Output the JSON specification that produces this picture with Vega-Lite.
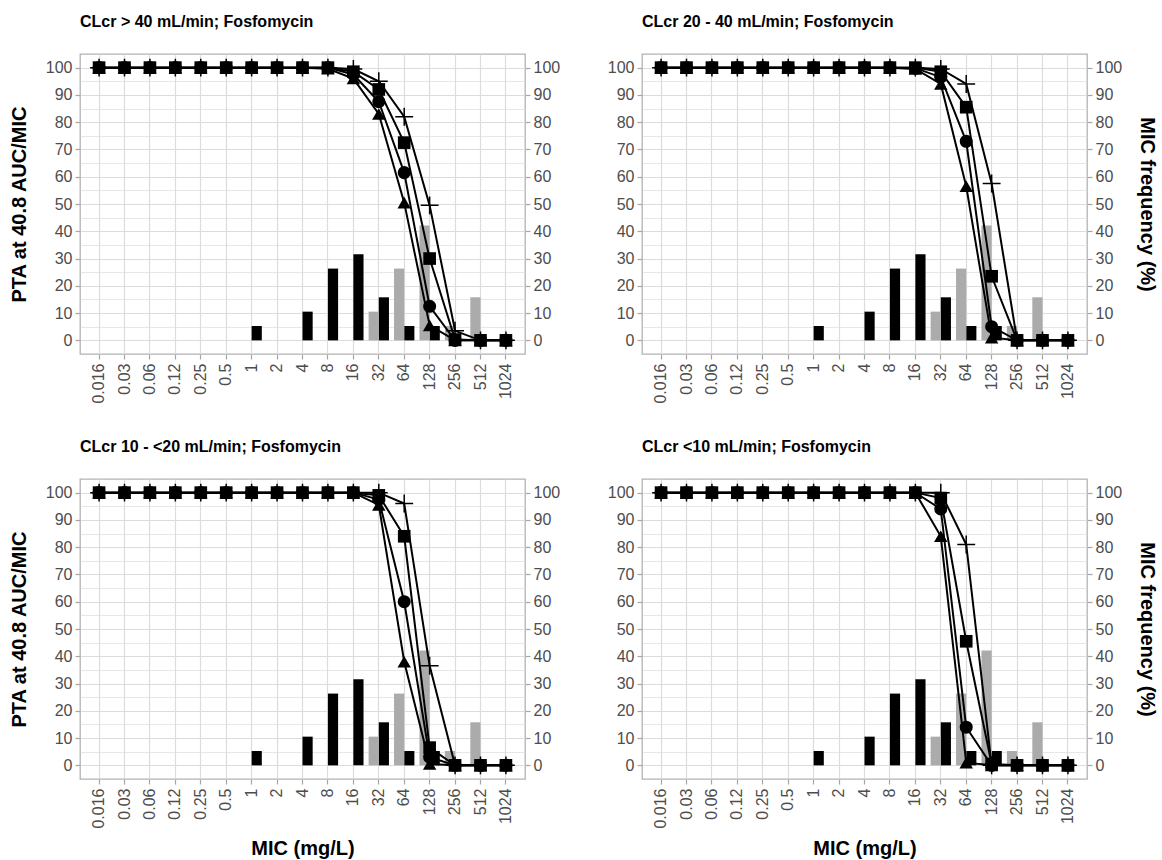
{
"$schema": "https://vega.github.io/schema/vega-lite/v6.json",
"background": "white",
"padding": {"left": 8, "right": 0, "top": 13, "bottom": 0},
"bounds": "flush",
"columns": 2,
"spacing": {"row": 125, "column": 117},
"config": {
 "font": "Liberation Sans",
 "view": {"stroke": "#b3b3b3", "strokeWidth": 1.3},
 "axis": {"domain": false, "labelFontSize": 16, "labelColor": "#4d4d4d", "labelFont": "Liberation Sans", "tickColor": "#a6a6a6", "tickSize": 5, "tickWidth": 1.2, "titleFontSize": 20, "titleFontWeight": "bold", "titleColor": "black", "titleFont": "Liberation Sans", "gridColor": "#dcdcdc", "gridWidth": 1.2, "labelPadding": 3},
 "title": {"fontSize": 16, "fontWeight": "bold", "anchor": "start", "frame": "group", "color": "black", "font": "Liberation Sans", "offset": 24}
},
"datasets": {
 "bars": [
  {"m": "1", "g": "black", "f": 5.26},
  {"m": "4", "g": "black", "f": 10.53},
  {"m": "8", "g": "black", "f": 26.32},
  {"m": "16", "g": "black", "f": 31.58},
  {"m": "32", "g": "black", "f": 15.79},
  {"m": "64", "g": "black", "f": 5.26},
  {"m": "128", "g": "black", "f": 5.26},
  {"m": "32", "g": "gray", "f": 10.53},
  {"m": "64", "g": "gray", "f": 26.32},
  {"m": "128", "g": "gray", "f": 42.11},
  {"m": "256", "g": "gray", "f": 5.26},
  {"m": "512", "g": "gray", "f": 15.79}
 ],
 "lines": [
  {"p":"A","m":"0.016","s":"tri","v":100},{"p":"A","m":"0.016","s":"circ","v":100},{"p":"A","m":"0.016","s":"sq","v":100},{"p":"A","m":"0.016","s":"plus","v":100},
  {"p":"A","m":"0.03","s":"tri","v":100},{"p":"A","m":"0.03","s":"circ","v":100},{"p":"A","m":"0.03","s":"sq","v":100},{"p":"A","m":"0.03","s":"plus","v":100},
  {"p":"A","m":"0.06","s":"tri","v":100},{"p":"A","m":"0.06","s":"circ","v":100},{"p":"A","m":"0.06","s":"sq","v":100},{"p":"A","m":"0.06","s":"plus","v":100},
  {"p":"A","m":"0.12","s":"tri","v":100},{"p":"A","m":"0.12","s":"circ","v":100},{"p":"A","m":"0.12","s":"sq","v":100},{"p":"A","m":"0.12","s":"plus","v":100},
  {"p":"A","m":"0.25","s":"tri","v":100},{"p":"A","m":"0.25","s":"circ","v":100},{"p":"A","m":"0.25","s":"sq","v":100},{"p":"A","m":"0.25","s":"plus","v":100},
  {"p":"A","m":"0.5","s":"tri","v":100},{"p":"A","m":"0.5","s":"circ","v":100},{"p":"A","m":"0.5","s":"sq","v":100},{"p":"A","m":"0.5","s":"plus","v":100},
  {"p":"A","m":"1","s":"tri","v":100},{"p":"A","m":"1","s":"circ","v":100},{"p":"A","m":"1","s":"sq","v":100},{"p":"A","m":"1","s":"plus","v":100},
  {"p":"A","m":"2","s":"tri","v":100},{"p":"A","m":"2","s":"circ","v":100},{"p":"A","m":"2","s":"sq","v":100},{"p":"A","m":"2","s":"plus","v":100},
  {"p":"A","m":"4","s":"tri","v":100},{"p":"A","m":"4","s":"circ","v":100},{"p":"A","m":"4","s":"sq","v":100},{"p":"A","m":"4","s":"plus","v":100},
  {"p":"A","m":"8","s":"tri","v":99.6},{"p":"A","m":"8","s":"circ","v":100},{"p":"A","m":"8","s":"sq","v":100},{"p":"A","m":"8","s":"plus","v":100},
  {"p":"A","m":"16","s":"tri","v":96},{"p":"A","m":"16","s":"circ","v":97.5},{"p":"A","m":"16","s":"sq","v":98.5},{"p":"A","m":"16","s":"plus","v":99.5},
  {"p":"A","m":"32","s":"tri","v":83},{"p":"A","m":"32","s":"circ","v":87.5},{"p":"A","m":"32","s":"sq","v":92},{"p":"A","m":"32","s":"plus","v":95},
  {"p":"A","m":"64","s":"tri","v":50.5},{"p":"A","m":"64","s":"circ","v":61.5},{"p":"A","m":"64","s":"sq","v":72.5},{"p":"A","m":"64","s":"plus","v":82},
  {"p":"A","m":"128","s":"tri","v":5.5},{"p":"A","m":"128","s":"circ","v":12.5},{"p":"A","m":"128","s":"sq","v":30},{"p":"A","m":"128","s":"plus","v":49.5},
  {"p":"A","m":"256","s":"tri","v":0},{"p":"A","m":"256","s":"circ","v":0},{"p":"A","m":"256","s":"sq","v":0.3},{"p":"A","m":"256","s":"plus","v":3.5},
  {"p":"A","m":"512","s":"tri","v":0},{"p":"A","m":"512","s":"circ","v":0},{"p":"A","m":"512","s":"sq","v":0},{"p":"A","m":"512","s":"plus","v":0},
  {"p":"A","m":"1024","s":"tri","v":0},{"p":"A","m":"1024","s":"circ","v":0},{"p":"A","m":"1024","s":"sq","v":0},{"p":"A","m":"1024","s":"plus","v":0},

  {"p":"B","m":"0.016","s":"tri","v":100},{"p":"B","m":"0.016","s":"circ","v":100},{"p":"B","m":"0.016","s":"sq","v":100},{"p":"B","m":"0.016","s":"plus","v":100},
  {"p":"B","m":"0.03","s":"tri","v":100},{"p":"B","m":"0.03","s":"circ","v":100},{"p":"B","m":"0.03","s":"sq","v":100},{"p":"B","m":"0.03","s":"plus","v":100},
  {"p":"B","m":"0.06","s":"tri","v":100},{"p":"B","m":"0.06","s":"circ","v":100},{"p":"B","m":"0.06","s":"sq","v":100},{"p":"B","m":"0.06","s":"plus","v":100},
  {"p":"B","m":"0.12","s":"tri","v":100},{"p":"B","m":"0.12","s":"circ","v":100},{"p":"B","m":"0.12","s":"sq","v":100},{"p":"B","m":"0.12","s":"plus","v":100},
  {"p":"B","m":"0.25","s":"tri","v":100},{"p":"B","m":"0.25","s":"circ","v":100},{"p":"B","m":"0.25","s":"sq","v":100},{"p":"B","m":"0.25","s":"plus","v":100},
  {"p":"B","m":"0.5","s":"tri","v":100},{"p":"B","m":"0.5","s":"circ","v":100},{"p":"B","m":"0.5","s":"sq","v":100},{"p":"B","m":"0.5","s":"plus","v":100},
  {"p":"B","m":"1","s":"tri","v":100},{"p":"B","m":"1","s":"circ","v":100},{"p":"B","m":"1","s":"sq","v":100},{"p":"B","m":"1","s":"plus","v":100},
  {"p":"B","m":"2","s":"tri","v":100},{"p":"B","m":"2","s":"circ","v":100},{"p":"B","m":"2","s":"sq","v":100},{"p":"B","m":"2","s":"plus","v":100},
  {"p":"B","m":"4","s":"tri","v":100},{"p":"B","m":"4","s":"circ","v":100},{"p":"B","m":"4","s":"sq","v":100},{"p":"B","m":"4","s":"plus","v":100},
  {"p":"B","m":"8","s":"tri","v":100},{"p":"B","m":"8","s":"circ","v":100},{"p":"B","m":"8","s":"sq","v":100},{"p":"B","m":"8","s":"plus","v":100},
  {"p":"B","m":"16","s":"tri","v":99.5},{"p":"B","m":"16","s":"circ","v":99.8},{"p":"B","m":"16","s":"sq","v":100},{"p":"B","m":"16","s":"plus","v":100},
  {"p":"B","m":"32","s":"tri","v":94},{"p":"B","m":"32","s":"circ","v":96.5},{"p":"B","m":"32","s":"sq","v":98.5},{"p":"B","m":"32","s":"plus","v":99.5},
  {"p":"B","m":"64","s":"tri","v":56.5},{"p":"B","m":"64","s":"circ","v":73},{"p":"B","m":"64","s":"sq","v":85.5},{"p":"B","m":"64","s":"plus","v":94},
  {"p":"B","m":"128","s":"tri","v":1},{"p":"B","m":"128","s":"circ","v":5},{"p":"B","m":"128","s":"sq","v":23.5},{"p":"B","m":"128","s":"plus","v":57.5},
  {"p":"B","m":"256","s":"tri","v":0},{"p":"B","m":"256","s":"circ","v":0},{"p":"B","m":"256","s":"sq","v":0},{"p":"B","m":"256","s":"plus","v":0},
  {"p":"B","m":"512","s":"tri","v":0},{"p":"B","m":"512","s":"circ","v":0},{"p":"B","m":"512","s":"sq","v":0},{"p":"B","m":"512","s":"plus","v":0},
  {"p":"B","m":"1024","s":"tri","v":0},{"p":"B","m":"1024","s":"circ","v":0},{"p":"B","m":"1024","s":"sq","v":0},{"p":"B","m":"1024","s":"plus","v":0},

  {"p":"C","m":"0.016","s":"tri","v":100},{"p":"C","m":"0.016","s":"circ","v":100},{"p":"C","m":"0.016","s":"sq","v":100},{"p":"C","m":"0.016","s":"plus","v":100},
  {"p":"C","m":"0.03","s":"tri","v":100},{"p":"C","m":"0.03","s":"circ","v":100},{"p":"C","m":"0.03","s":"sq","v":100},{"p":"C","m":"0.03","s":"plus","v":100},
  {"p":"C","m":"0.06","s":"tri","v":100},{"p":"C","m":"0.06","s":"circ","v":100},{"p":"C","m":"0.06","s":"sq","v":100},{"p":"C","m":"0.06","s":"plus","v":100},
  {"p":"C","m":"0.12","s":"tri","v":100},{"p":"C","m":"0.12","s":"circ","v":100},{"p":"C","m":"0.12","s":"sq","v":100},{"p":"C","m":"0.12","s":"plus","v":100},
  {"p":"C","m":"0.25","s":"tri","v":100},{"p":"C","m":"0.25","s":"circ","v":100},{"p":"C","m":"0.25","s":"sq","v":100},{"p":"C","m":"0.25","s":"plus","v":100},
  {"p":"C","m":"0.5","s":"tri","v":100},{"p":"C","m":"0.5","s":"circ","v":100},{"p":"C","m":"0.5","s":"sq","v":100},{"p":"C","m":"0.5","s":"plus","v":100},
  {"p":"C","m":"1","s":"tri","v":100},{"p":"C","m":"1","s":"circ","v":100},{"p":"C","m":"1","s":"sq","v":100},{"p":"C","m":"1","s":"plus","v":100},
  {"p":"C","m":"2","s":"tri","v":100},{"p":"C","m":"2","s":"circ","v":100},{"p":"C","m":"2","s":"sq","v":100},{"p":"C","m":"2","s":"plus","v":100},
  {"p":"C","m":"4","s":"tri","v":100},{"p":"C","m":"4","s":"circ","v":100},{"p":"C","m":"4","s":"sq","v":100},{"p":"C","m":"4","s":"plus","v":100},
  {"p":"C","m":"8","s":"tri","v":100},{"p":"C","m":"8","s":"circ","v":100},{"p":"C","m":"8","s":"sq","v":100},{"p":"C","m":"8","s":"plus","v":100},
  {"p":"C","m":"16","s":"tri","v":100},{"p":"C","m":"16","s":"circ","v":100},{"p":"C","m":"16","s":"sq","v":100},{"p":"C","m":"16","s":"plus","v":100},
  {"p":"C","m":"32","s":"tri","v":95.5},{"p":"C","m":"32","s":"circ","v":97.5},{"p":"C","m":"32","s":"sq","v":99},{"p":"C","m":"32","s":"plus","v":100},
  {"p":"C","m":"64","s":"tri","v":38},{"p":"C","m":"64","s":"circ","v":60},{"p":"C","m":"64","s":"sq","v":84},{"p":"C","m":"64","s":"plus","v":96},
  {"p":"C","m":"128","s":"tri","v":0.5},{"p":"C","m":"128","s":"circ","v":3},{"p":"C","m":"128","s":"sq","v":6.5},{"p":"C","m":"128","s":"plus","v":36.5},
  {"p":"C","m":"256","s":"tri","v":0},{"p":"C","m":"256","s":"circ","v":0},{"p":"C","m":"256","s":"sq","v":0},{"p":"C","m":"256","s":"plus","v":0},
  {"p":"C","m":"512","s":"tri","v":0},{"p":"C","m":"512","s":"circ","v":0},{"p":"C","m":"512","s":"sq","v":0},{"p":"C","m":"512","s":"plus","v":0},
  {"p":"C","m":"1024","s":"tri","v":0},{"p":"C","m":"1024","s":"circ","v":0},{"p":"C","m":"1024","s":"sq","v":0},{"p":"C","m":"1024","s":"plus","v":0},

  {"p":"D","m":"0.016","s":"tri","v":100},{"p":"D","m":"0.016","s":"circ","v":100},{"p":"D","m":"0.016","s":"sq","v":100},{"p":"D","m":"0.016","s":"plus","v":100},
  {"p":"D","m":"0.03","s":"tri","v":100},{"p":"D","m":"0.03","s":"circ","v":100},{"p":"D","m":"0.03","s":"sq","v":100},{"p":"D","m":"0.03","s":"plus","v":100},
  {"p":"D","m":"0.06","s":"tri","v":100},{"p":"D","m":"0.06","s":"circ","v":100},{"p":"D","m":"0.06","s":"sq","v":100},{"p":"D","m":"0.06","s":"plus","v":100},
  {"p":"D","m":"0.12","s":"tri","v":100},{"p":"D","m":"0.12","s":"circ","v":100},{"p":"D","m":"0.12","s":"sq","v":100},{"p":"D","m":"0.12","s":"plus","v":100},
  {"p":"D","m":"0.25","s":"tri","v":100},{"p":"D","m":"0.25","s":"circ","v":100},{"p":"D","m":"0.25","s":"sq","v":100},{"p":"D","m":"0.25","s":"plus","v":100},
  {"p":"D","m":"0.5","s":"tri","v":100},{"p":"D","m":"0.5","s":"circ","v":100},{"p":"D","m":"0.5","s":"sq","v":100},{"p":"D","m":"0.5","s":"plus","v":100},
  {"p":"D","m":"1","s":"tri","v":100},{"p":"D","m":"1","s":"circ","v":100},{"p":"D","m":"1","s":"sq","v":100},{"p":"D","m":"1","s":"plus","v":100},
  {"p":"D","m":"2","s":"tri","v":100},{"p":"D","m":"2","s":"circ","v":100},{"p":"D","m":"2","s":"sq","v":100},{"p":"D","m":"2","s":"plus","v":100},
  {"p":"D","m":"4","s":"tri","v":100},{"p":"D","m":"4","s":"circ","v":100},{"p":"D","m":"4","s":"sq","v":100},{"p":"D","m":"4","s":"plus","v":100},
  {"p":"D","m":"8","s":"tri","v":100},{"p":"D","m":"8","s":"circ","v":100},{"p":"D","m":"8","s":"sq","v":100},{"p":"D","m":"8","s":"plus","v":100},
  {"p":"D","m":"16","s":"tri","v":100},{"p":"D","m":"16","s":"circ","v":100},{"p":"D","m":"16","s":"sq","v":100},{"p":"D","m":"16","s":"plus","v":100},
  {"p":"D","m":"32","s":"tri","v":84},{"p":"D","m":"32","s":"circ","v":94},{"p":"D","m":"32","s":"sq","v":98},{"p":"D","m":"32","s":"plus","v":100},
  {"p":"D","m":"64","s":"tri","v":1},{"p":"D","m":"64","s":"circ","v":14},{"p":"D","m":"64","s":"sq","v":45.5},{"p":"D","m":"64","s":"plus","v":81},
  {"p":"D","m":"128","s":"tri","v":0},{"p":"D","m":"128","s":"circ","v":0},{"p":"D","m":"128","s":"sq","v":0.5},{"p":"D","m":"128","s":"plus","v":0},
  {"p":"D","m":"256","s":"tri","v":0},{"p":"D","m":"256","s":"circ","v":0},{"p":"D","m":"256","s":"sq","v":0},{"p":"D","m":"256","s":"plus","v":0},
  {"p":"D","m":"512","s":"tri","v":0},{"p":"D","m":"512","s":"circ","v":0},{"p":"D","m":"512","s":"sq","v":0},{"p":"D","m":"512","s":"plus","v":0},
  {"p":"D","m":"1024","s":"tri","v":0},{"p":"D","m":"1024","s":"circ","v":0},{"p":"D","m":"1024","s":"sq","v":0},{"p":"D","m":"1024","s":"plus","v":0}
 ]
},
"concat": [
 {
  "title": {"text": "CLcr > 40 mL/min; Fosfomycin"},
  "width": 445, "height": 300,
  "encoding": {"x": {"field": "m", "type": "nominal", "sort": null, "scale": {"domain": ["0.016","0.03","0.06","0.12","0.25","0.5","1","2","4","8","16","32","64","128","256","512","1024"], "paddingInner": 0.2, "paddingOuter": 0.35}, "axis": {"title": null, "labelAngle": -90, "grid": true, "labelPadding": 4}}},
  "layer": [
   {"data": {"name": "bars"}, "mark": {"type": "bar"},
    "encoding": {"xOffset": {"field": "g", "type": "nominal", "scale": {"domain": ["gray", "black"]}},
     "y": {"field": "f", "type": "quantitative", "scale": {"domain": [-5, 105], "nice": false, "zero": false}, "axis": {"orient": "right", "values": [0,10,20,30,40,50,60,70,80,90,100], "grid": false, "title": null}},
     "y2": {"datum": 0},
     "color": {"field": "g", "type": "nominal", "scale": {"domain": ["gray", "black"], "range": ["#ababab", "#000000"]}, "legend": null}}},
   {"data": {"name": "lines"}, "transform": [{"filter": "datum.p === 'A'"}], "mark": {"type": "line", "color": "black", "strokeWidth": 2},
    "encoding": {"y": {"field": "v", "type": "quantitative", "scale": {"domain": [-5, 105], "nice": false, "zero": false}, "axis": {"orient": "left", "values": [0,5,10,15,20,25,30,35,40,45,50,55,60,65,70,75,80,85,90,95,100], "labelExpr": "datum.value % 10 === 0 ? datum.label : ''", "tickOpacity": {"condition": {"test": "datum.value % 10 !== 0", "value": 0}, "value": 1}, "gridWidth": {"condition": {"test": "datum.value % 10 !== 0", "value": 0.7}, "value": 1.2}, "grid": true, "title": "PTA at 40.8 AUC/MIC", "titlePadding": 16}},
     "detail": {"field": "s"}, "order": {"value": null}}},
   {"data": {"name": "lines"}, "transform": [{"filter": "datum.p === 'A' && datum.s !== 'plus'"}], "mark": {"type": "point", "filled": true, "opacity": 1, "color": "black"},
    "encoding": {"y": {"field": "v", "type": "quantitative", "axis": null},
     "shape": {"field": "s", "type": "nominal", "scale": {"domain": ["tri", "circ", "sq"], "range": ["triangle-up", "circle", "square"]}, "legend": null},
     "size": {"field": "s", "type": "nominal", "scale": {"domain": ["tri", "circ", "sq"], "range": [180, 160, 160]}, "legend": null}}},
   {"data": {"name": "lines"}, "transform": [{"filter": "datum.p === 'A' && datum.s === 'plus'"}], "mark": {"type": "point", "shape": "M-1,0H1M0,-1V1", "size": 320, "filled": false, "color": "black", "strokeWidth": 1.5, "opacity": 1},
    "encoding": {"y": {"field": "v", "type": "quantitative", "axis": null}}}
  ],
  "resolve": {"axis": {"y": "independent"}}
 },
 {
  "title": {"text": "CLcr 20 - 40 mL/min; Fosfomycin"},
  "width": 445, "height": 300,
  "encoding": {"x": {"field": "m", "type": "nominal", "sort": null, "scale": {"domain": ["0.016","0.03","0.06","0.12","0.25","0.5","1","2","4","8","16","32","64","128","256","512","1024"], "paddingInner": 0.2, "paddingOuter": 0.35}, "axis": {"title": null, "labelAngle": -90, "grid": true, "labelPadding": 4}}},
  "layer": [
   {"data": {"name": "bars"}, "mark": {"type": "bar"},
    "encoding": {"xOffset": {"field": "g", "type": "nominal", "scale": {"domain": ["gray", "black"]}},
     "y": {"field": "f", "type": "quantitative", "scale": {"domain": [-5, 105], "nice": false, "zero": false}, "axis": {"orient": "right", "values": [0,10,20,30,40,50,60,70,80,90,100], "grid": false, "title": "MIC frequency (%)", "titlePadding": 15}},
     "y2": {"datum": 0},
     "color": {"field": "g", "type": "nominal", "scale": {"domain": ["gray", "black"], "range": ["#ababab", "#000000"]}, "legend": null}}},
   {"data": {"name": "lines"}, "transform": [{"filter": "datum.p === 'B'"}], "mark": {"type": "line", "color": "black", "strokeWidth": 2},
    "encoding": {"y": {"field": "v", "type": "quantitative", "scale": {"domain": [-5, 105], "nice": false, "zero": false}, "axis": {"orient": "left", "values": [0,5,10,15,20,25,30,35,40,45,50,55,60,65,70,75,80,85,90,95,100], "labelExpr": "datum.value % 10 === 0 ? datum.label : ''", "tickOpacity": {"condition": {"test": "datum.value % 10 !== 0", "value": 0}, "value": 1}, "gridWidth": {"condition": {"test": "datum.value % 10 !== 0", "value": 0.7}, "value": 1.2}, "grid": true, "title": null}},
     "detail": {"field": "s"}, "order": {"value": null}}},
   {"data": {"name": "lines"}, "transform": [{"filter": "datum.p === 'B' && datum.s !== 'plus'"}], "mark": {"type": "point", "filled": true, "opacity": 1, "color": "black"},
    "encoding": {"y": {"field": "v", "type": "quantitative", "axis": null},
     "shape": {"field": "s", "type": "nominal", "scale": {"domain": ["tri", "circ", "sq"], "range": ["triangle-up", "circle", "square"]}, "legend": null},
     "size": {"field": "s", "type": "nominal", "scale": {"domain": ["tri", "circ", "sq"], "range": [180, 160, 160]}, "legend": null}}},
   {"data": {"name": "lines"}, "transform": [{"filter": "datum.p === 'B' && datum.s === 'plus'"}], "mark": {"type": "point", "shape": "M-1,0H1M0,-1V1", "size": 320, "filled": false, "color": "black", "strokeWidth": 1.5, "opacity": 1},
    "encoding": {"y": {"field": "v", "type": "quantitative", "axis": null}}}
  ],
  "resolve": {"axis": {"y": "independent"}}
 },
 {
  "title": {"text": "CLcr 10 - <20 mL/min; Fosfomycin"},
  "width": 445, "height": 300,
  "encoding": {"x": {"field": "m", "type": "nominal", "sort": null, "scale": {"domain": ["0.016","0.03","0.06","0.12","0.25","0.5","1","2","4","8","16","32","64","128","256","512","1024"], "paddingInner": 0.2, "paddingOuter": 0.35}, "axis": {"title": "MIC (mg/L)", "titlePadding": 10, "labelAngle": -90, "grid": true, "labelPadding": 4}}},
  "layer": [
   {"data": {"name": "bars"}, "mark": {"type": "bar"},
    "encoding": {"xOffset": {"field": "g", "type": "nominal", "scale": {"domain": ["gray", "black"]}},
     "y": {"field": "f", "type": "quantitative", "scale": {"domain": [-5, 105], "nice": false, "zero": false}, "axis": {"orient": "right", "values": [0,10,20,30,40,50,60,70,80,90,100], "grid": false, "title": null}},
     "y2": {"datum": 0},
     "color": {"field": "g", "type": "nominal", "scale": {"domain": ["gray", "black"], "range": ["#ababab", "#000000"]}, "legend": null}}},
   {"data": {"name": "lines"}, "transform": [{"filter": "datum.p === 'C'"}], "mark": {"type": "line", "color": "black", "strokeWidth": 2},
    "encoding": {"y": {"field": "v", "type": "quantitative", "scale": {"domain": [-5, 105], "nice": false, "zero": false}, "axis": {"orient": "left", "values": [0,5,10,15,20,25,30,35,40,45,50,55,60,65,70,75,80,85,90,95,100], "labelExpr": "datum.value % 10 === 0 ? datum.label : ''", "tickOpacity": {"condition": {"test": "datum.value % 10 !== 0", "value": 0}, "value": 1}, "gridWidth": {"condition": {"test": "datum.value % 10 !== 0", "value": 0.7}, "value": 1.2}, "grid": true, "title": "PTA at 40.8 AUC/MIC", "titlePadding": 16}},
     "detail": {"field": "s"}, "order": {"value": null}}},
   {"data": {"name": "lines"}, "transform": [{"filter": "datum.p === 'C' && datum.s !== 'plus'"}], "mark": {"type": "point", "filled": true, "opacity": 1, "color": "black"},
    "encoding": {"y": {"field": "v", "type": "quantitative", "axis": null},
     "shape": {"field": "s", "type": "nominal", "scale": {"domain": ["tri", "circ", "sq"], "range": ["triangle-up", "circle", "square"]}, "legend": null},
     "size": {"field": "s", "type": "nominal", "scale": {"domain": ["tri", "circ", "sq"], "range": [180, 160, 160]}, "legend": null}}},
   {"data": {"name": "lines"}, "transform": [{"filter": "datum.p === 'C' && datum.s === 'plus'"}], "mark": {"type": "point", "shape": "M-1,0H1M0,-1V1", "size": 320, "filled": false, "color": "black", "strokeWidth": 1.5, "opacity": 1},
    "encoding": {"y": {"field": "v", "type": "quantitative", "axis": null}}}
  ],
  "resolve": {"axis": {"y": "independent"}}
 },
 {
  "title": {"text": "CLcr <10 mL/min; Fosfomycin"},
  "width": 445, "height": 300,
  "encoding": {"x": {"field": "m", "type": "nominal", "sort": null, "scale": {"domain": ["0.016","0.03","0.06","0.12","0.25","0.5","1","2","4","8","16","32","64","128","256","512","1024"], "paddingInner": 0.2, "paddingOuter": 0.35}, "axis": {"title": "MIC (mg/L)", "titlePadding": 10, "labelAngle": -90, "grid": true, "labelPadding": 4}}},
  "layer": [
   {"data": {"name": "bars"}, "mark": {"type": "bar"},
    "encoding": {"xOffset": {"field": "g", "type": "nominal", "scale": {"domain": ["gray", "black"]}},
     "y": {"field": "f", "type": "quantitative", "scale": {"domain": [-5, 105], "nice": false, "zero": false}, "axis": {"orient": "right", "values": [0,10,20,30,40,50,60,70,80,90,100], "grid": false, "title": "MIC frequency (%)", "titlePadding": 15}},
     "y2": {"datum": 0},
     "color": {"field": "g", "type": "nominal", "scale": {"domain": ["gray", "black"], "range": ["#ababab", "#000000"]}, "legend": null}}},
   {"data": {"name": "lines"}, "transform": [{"filter": "datum.p === 'D'"}], "mark": {"type": "line", "color": "black", "strokeWidth": 2},
    "encoding": {"y": {"field": "v", "type": "quantitative", "scale": {"domain": [-5, 105], "nice": false, "zero": false}, "axis": {"orient": "left", "values": [0,5,10,15,20,25,30,35,40,45,50,55,60,65,70,75,80,85,90,95,100], "labelExpr": "datum.value % 10 === 0 ? datum.label : ''", "tickOpacity": {"condition": {"test": "datum.value % 10 !== 0", "value": 0}, "value": 1}, "gridWidth": {"condition": {"test": "datum.value % 10 !== 0", "value": 0.7}, "value": 1.2}, "grid": true, "title": null}},
     "detail": {"field": "s"}, "order": {"value": null}}},
   {"data": {"name": "lines"}, "transform": [{"filter": "datum.p === 'D' && datum.s !== 'plus'"}], "mark": {"type": "point", "filled": true, "opacity": 1, "color": "black"},
    "encoding": {"y": {"field": "v", "type": "quantitative", "axis": null},
     "shape": {"field": "s", "type": "nominal", "scale": {"domain": ["tri", "circ", "sq"], "range": ["triangle-up", "circle", "square"]}, "legend": null},
     "size": {"field": "s", "type": "nominal", "scale": {"domain": ["tri", "circ", "sq"], "range": [180, 160, 160]}, "legend": null}}},
   {"data": {"name": "lines"}, "transform": [{"filter": "datum.p === 'D' && datum.s === 'plus'"}], "mark": {"type": "point", "shape": "M-1,0H1M0,-1V1", "size": 320, "filled": false, "color": "black", "strokeWidth": 1.5, "opacity": 1},
    "encoding": {"y": {"field": "v", "type": "quantitative", "axis": null}}}
  ],
  "resolve": {"axis": {"y": "independent"}}
 }
]
}
